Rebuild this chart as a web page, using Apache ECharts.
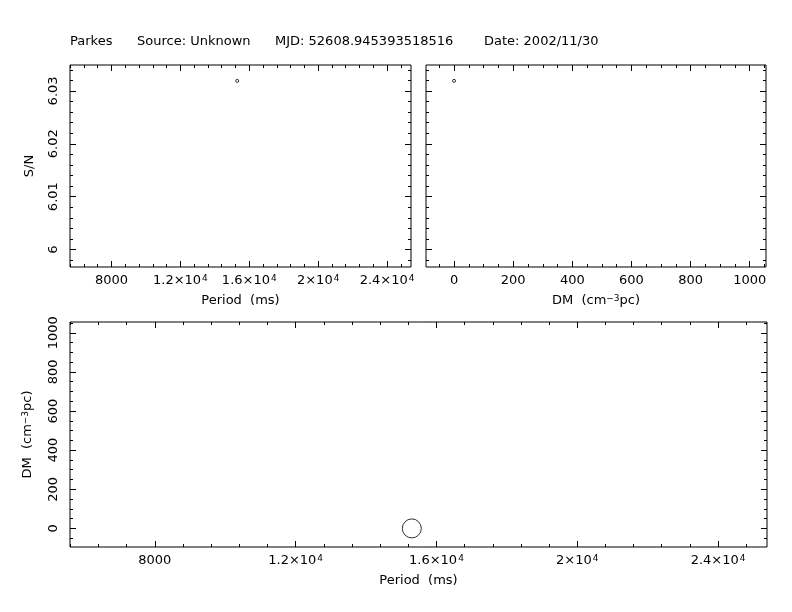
<!DOCTYPE html>
<html>
<head>
<meta charset="utf-8">
<script src="https://cdn.jsdelivr.net/npm/echarts@6/dist/echarts.min.js"></script>
<style>
  html, body { margin: 0; padding: 0; background: #fff; }
  #grafico { width: 792px; height: 612px; }
</style>
</head>
<body>
<div id="grafico"></div>
<script>
// Datos del candidato
var periodos = [15300];      // ms
var senalRuido = [6.0319];   // S/N
var dms = [0];               // cm^-3 pc

// Textos de cabecera
var cabecera = ['Parkes', 'Source: Unknown', 'MJD: 52608.945393518516', 'Date: 2002/11/30'];

// Marcas de los ejes
var ticksPeriodo = [8000, 12000, 16000, 20000, 24000];
var etiquetasPeriodo = ['8000', '1.2×10{s|4}', '1.6×10{s|4}', '2×10{s|4}', '2.4×10{s|4}'];
var ticksDM = [0, 200, 400, 600, 800, 1000];
var ticksSN = [6, 6.01, 6.02, 6.03];
var etiquetasSN = ['6', '6.01', '6.02', '6.03'];

// Rangos de los ejes
var rangoPeriodo = [5590, 25390];
var rangoDM = [-95, 1055];
var rangoSN = [5.9967, 6.0349];

var fuente = 'DejaVu Sans';
var negro = '#000';

// marcas menores
function menores(desde, hasta, paso) {
    var r = [];
    for (var i = 0; ; i++) {
        var v = +(desde + i * paso).toFixed(6);
        if (v > hasta) break;
        r.push(v);
    }
    return r;
}
var menPeriodo = menores(5600, 25390, 800);
var menDM = menores(-50, 1055, 50);
var menSN = menores(5.998, 6.0349, 0.002);

var richSup = {
    s: { fontSize: 9, fontFamily: fuente, color: negro, verticalAlign: 'top', lineHeight: 10, padding: [0, 0, 9, 1] }
};

// Crea 4 ejes (mayor/menor en ambos lados) y devuelve el índice del principal
function crearEjes(lista, grid, lados, rango, mayores, menoresV, etiquetas, nombre, extra) {
    var idx = lista.length;
    lados.forEach(function (lado, k) {
        [true, false].forEach(function (esMayor) {
            var principal = (k === 0 && esMayor);
            var eje = {
                gridIndex: grid, type: 'value', position: lado,
                min: rango[0], max: rango[1],
                axisLine: { show: false, onZero: false },
                splitLine: { show: false },
                axisTick: {
                    show: true, inside: true, length: esMayor ? 6 : 3,
                    customValues: esMayor ? mayores : menoresV,
                    lineStyle: { color: negro, width: 1 }
                },
                axisLabel: { show: false }
            };
            if (principal && etiquetas) {
                eje.axisLabel = Object.assign({
                    show: true, customValues: mayores,
                    color: negro, fontFamily: fuente, fontSize: 13,
                    formatter: function (v) {
                        var i = mayores.indexOf(v);
                        return i >= 0 ? etiquetas[i] : '';
                    },
                    rich: richSup
                }, extra.label || {});
            }
            if (principal && nombre) {
                eje.name = nombre;
                eje.nameLocation = 'middle';
                eje.nameGap = extra.nameGap;
                eje.nameRotate = extra.nameRotate;
                eje.nameTextStyle = {
                    color: negro, fontFamily: fuente, fontSize: 13,
                    rich: {
                        s: { fontSize: 9, fontFamily: fuente, color: negro, verticalAlign: 'top', lineHeight: 10, padding: [0, 0, 9, 0] }
                    }
                };
            }
            lista.push(eje);
        });
    });
    return idx;
}

var ejesX = [], ejesY = [];
var etiqDM = ticksDM.map(String);
var nombreDM = 'DM  (cm{s|−3}pc)';

// Panel superior izquierdo: S/N vs periodo
var x0 = crearEjes(ejesX, 0, ['bottom', 'top'], rangoPeriodo, ticksPeriodo, menPeriodo, etiquetasPeriodo,
    'Period  (ms)', { nameGap: 27, label: { margin: 7 } });
var y0 = crearEjes(ejesY, 0, ['left', 'right'], rangoSN, ticksSN, menSN, etiquetasSN,
    'S/N', { nameGap: 34, nameRotate: 90, label: { rotate: 90, margin: 10 } });

// Panel superior derecho: S/N vs DM
var x1 = crearEjes(ejesX, 1, ['bottom', 'top'], rangoDM, ticksDM, menDM, etiqDM,
    nombreDM, { nameGap: 27, label: { margin: 7 } });
var y1 = crearEjes(ejesY, 1, ['left', 'right'], rangoSN, ticksSN, menSN, null, null, {});

// Panel inferior: DM vs periodo
var x2 = crearEjes(ejesX, 2, ['bottom', 'top'], rangoPeriodo, ticksPeriodo, menPeriodo, etiquetasPeriodo,
    'Period  (ms)', { nameGap: 27, label: { margin: 7 } });
var y2 = crearEjes(ejesY, 2, ['left', 'right'], rangoDM, ticksDM, menDM, etiqDM,
    nombreDM, { nameGap: 34, nameRotate: 90, label: { rotate: 90, margin: 10 } });

var posCabecera = [70, 137, 275, 484];

var grafico = echarts.init(document.getElementById('grafico'));

var opciones = {
    animation: false,
    backgroundColor: '#fff',
    graphic: cabecera.map(function (t, i) {
        return {
            type: 'text', left: posCabecera[i], top: 35,
            style: { text: t, font: '13px "' + fuente + '"', fill: negro }
        };
    }),
    grid: [
        { left: 70, top: 65, width: 341, height: 202, show: true, borderColor: negro, borderWidth: 1, backgroundColor: 'transparent' },
        { left: 426, top: 65, width: 340, height: 202, show: true, borderColor: negro, borderWidth: 1, backgroundColor: 'transparent' },
        { left: 70, top: 322, width: 697, height: 225, show: true, borderColor: negro, borderWidth: 1, backgroundColor: 'transparent' }
    ],
    xAxis: ejesX,
    yAxis: ejesY,
    series: [
        {
            type: 'scatter', xAxisIndex: x0, yAxisIndex: y0,
            symbol: 'circle', symbolSize: 3,
            itemStyle: { color: '#fff', borderColor: negro, borderWidth: 1 },
            data: periodos.map(function (p, i) { return [p, senalRuido[i]]; })
        },
        {
            type: 'scatter', xAxisIndex: x1, yAxisIndex: y1,
            symbol: 'circle', symbolSize: 3,
            itemStyle: { color: '#fff', borderColor: negro, borderWidth: 1 },
            data: dms.map(function (d, i) { return [d, senalRuido[i]]; })
        },
        {
            type: 'scatter', xAxisIndex: x2, yAxisIndex: y2,
            symbol: 'circle', symbolSize: 19,
            itemStyle: { color: 'transparent', borderColor: negro, borderWidth: 1 },
            data: periodos.map(function (p, i) { return [p, dms[i]]; })
        }
    ]
};

grafico.setOption(opciones);
</script>
</body>
</html>
